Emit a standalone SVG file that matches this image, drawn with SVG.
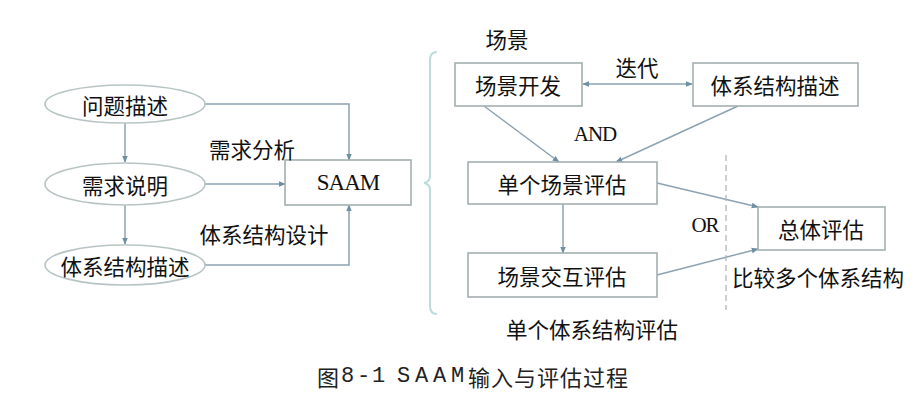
<svg xmlns="http://www.w3.org/2000/svg" width="921" height="400" viewBox="0 0 921 400">
<defs>
<marker id="ah" viewBox="0 0 10 10" refX="9" refY="5" markerWidth="7" markerHeight="7" orient="auto-start-reverse" markerUnits="userSpaceOnUse">
<path d="M0,1 L10,5 L0,9 Z" fill="#6d8ea3"/>
</marker>
<style>
.lbl{font-family:"Noto Sans CJK SC","Liberation Serif",serif;font-size:21.5px;fill:#111;text-anchor:middle;dominant-baseline:central}
.lat{font-family:"Liberation Serif","Noto Sans CJK SC",serif;font-size:21px;fill:#111;text-anchor:middle;dominant-baseline:central;letter-spacing:-1px}
.box{fill:#fff;stroke:#a3b0b0;stroke-width:1.6}
.ell{fill:#fff;stroke:#b8c4c4;stroke-width:1.6}
.ln{fill:none;stroke:#8ca3b3;stroke-width:1.5}
.cap{font-family:"Noto Sans CJK SC","Liberation Serif",serif;font-size:22px;fill:#222;dominant-baseline:central}
.capm{font-family:"Liberation Mono",monospace;font-size:22px;fill:#222;dominant-baseline:central}
</style>
</defs>
<rect width="921" height="400" fill="#fff"/>

<g id="connectors">
<line class="ln" x1="125" y1="123" x2="125" y2="162" marker-end="url(#ah)"/>
<line class="ln" x1="125" y1="205" x2="125" y2="244" marker-end="url(#ah)"/>
<polyline class="ln" points="205,104 349,104 349,160" marker-end="url(#ah)"/>
<line class="ln" x1="205" y1="184" x2="285" y2="184" marker-end="url(#ah)"/>
<polyline class="ln" points="205,265 349,265 349,205" marker-end="url(#ah)"/>
<line class="ln" x1="583" y1="84" x2="692" y2="84" marker-start="url(#ah)" marker-end="url(#ah)"/>
<line class="ln" x1="484" y1="106" x2="559" y2="162" marker-end="url(#ah)"/>
<line class="ln" x1="738" y1="106" x2="616" y2="162" marker-end="url(#ah)"/>
<line class="ln" x1="563" y1="204" x2="563" y2="253" marker-end="url(#ah)"/>
<line class="ln" x1="657" y1="183" x2="758" y2="207" marker-end="url(#ah)"/>
<line class="ln" x1="657" y1="275" x2="758" y2="249" marker-end="url(#ah)"/>
<line x1="726" y1="155" x2="726" y2="310" stroke="#b0b6b6" stroke-width="1.3" stroke-dasharray="6,4"/>
<path d="M437,52 Q430,52 430,60 L430,176 Q430,182 424,183 Q430,184 430,190 L430,306 Q430,314 437,314" fill="none" stroke="#bcdcdc" stroke-width="2"/>
</g>

<g id="n-wenti"><ellipse class="ell" cx="125" cy="104" rx="80" ry="19"/><text class="lbl" x="125" y="104">问题描述</text></g>
<g id="n-xuqiu"><ellipse class="ell" cx="125" cy="184" rx="80" ry="21"/><text class="lbl" x="125" y="184">需求说明</text></g>
<g id="n-tixi-left"><ellipse class="ell" cx="125" cy="265" rx="80" ry="20"/><text class="lbl" x="125" y="265">体系结构描述</text></g>
<g id="n-saam"><rect class="box" x="285" y="160" width="126" height="45"/><text class="lat" x="348" y="182" style="font-size:23px">SAAM</text></g>

<g id="n-kaifa"><rect class="box" x="455" y="63" width="127" height="43"/><text class="lbl" x="518" y="84">场景开发</text></g>
<g id="n-tixi-right"><rect class="box" x="693" y="63" width="165" height="43"/><text class="lbl" x="775" y="84">体系结构描述</text></g>
<g id="n-danpg"><rect class="box" x="468" y="162" width="189" height="42"/><text class="lbl" x="562" y="183">单个场景评估</text></g>
<g id="n-jiaohu"><rect class="box" x="468" y="253" width="189" height="44"/><text class="lbl" x="562" y="275">场景交互评估</text></g>
<g id="n-zongti"><rect class="box" x="758" y="207" width="127" height="43"/><text class="lbl" x="821" y="228">总体评估</text></g>

<g id="labels">
<text class="lbl" x="252" y="148">需求分析</text>
<text class="lbl" x="264" y="233">体系结构设计</text>
<text class="lbl" x="507" y="38">场景</text>
<text class="lbl" x="637" y="66">迭代</text>
<text class="lat" x="595" y="134">AND</text>
<text class="lat" x="705" y="225">OR</text>
<text class="lbl" x="818" y="276">比较多个体系结构</text>
<text class="lbl" x="592" y="328">单个体系结构评估</text>
<text class="cap" x="317" y="376">图</text>
<text class="capm" x="341" y="376">8</text>
<text class="capm" x="357" y="376">-</text>
<text class="capm" x="372" y="376">1</text>
<text class="capm" x="397" y="376">S</text>
<text class="capm" x="415" y="376">A</text>
<text class="capm" x="433" y="376">A</text>
<text class="capm" x="451" y="376">M</text>
<text class="cap" x="468" y="376" letter-spacing="1">输入与评估过程</text>
</g>
</svg>
